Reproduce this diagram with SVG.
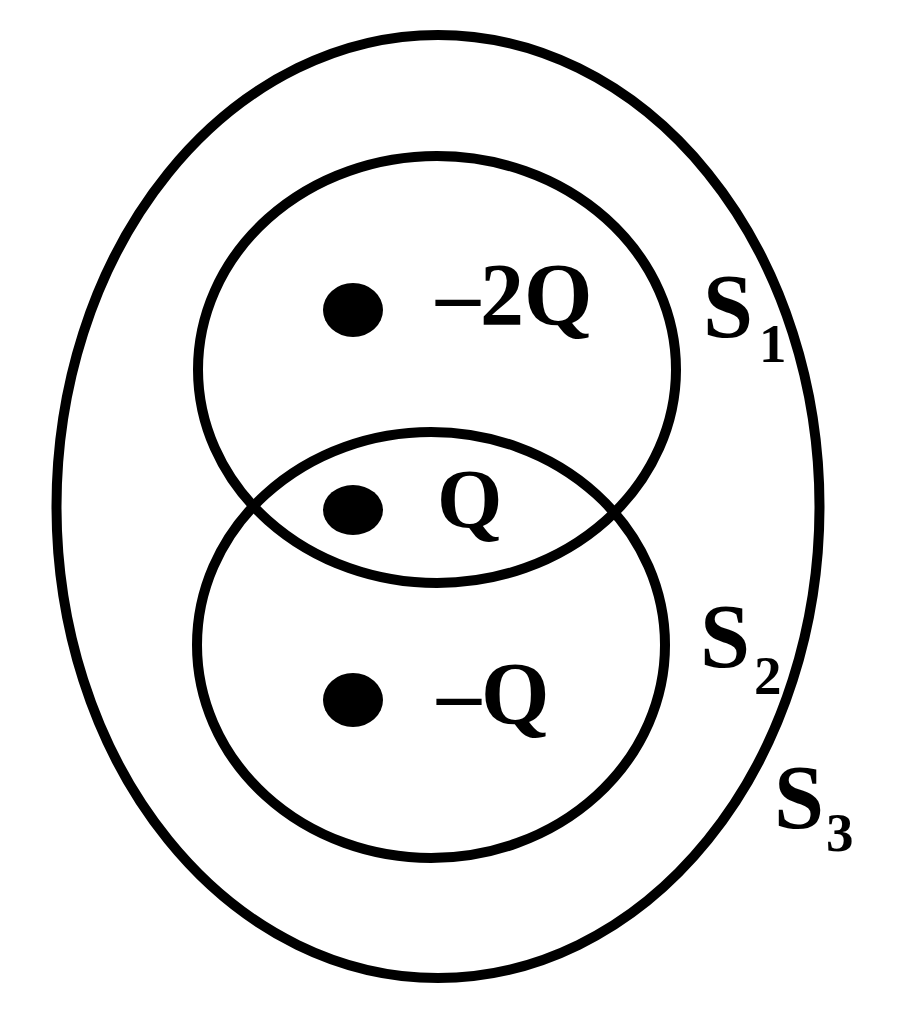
<svg xmlns="http://www.w3.org/2000/svg" width="900" height="1016" viewBox="0 0 900 1016">
<style>
.line{fill:none;stroke:#000;stroke-width:10}
.dot{fill:#000}
.lbl{font-family:"Liberation Serif","Times New Roman",serif;font-weight:bold;fill:#000}
.big{font-size:88px}
.s{font-size:90px}
.sub{font-size:55px}
</style>
<rect width="900" height="1016" fill="#fff"/>
<g id="S3">
<ellipse class="line" cx="438" cy="506.5" rx="381.5" ry="471.5"/>
<text class="lbl s" x="774" y="828">S</text><text class="lbl sub" x="826" y="851">3</text>
</g>
<g id="S1">
<ellipse class="line" cx="437" cy="369.5" rx="239" ry="213.5"/>
<text class="lbl s" x="703" y="337">S</text><text class="lbl sub" x="759" y="362">1</text>
</g>
<g id="S2">
<ellipse class="line" cx="431" cy="645" rx="234" ry="213"/>
<text class="lbl s" x="700" y="667">S</text><text class="lbl sub" x="754" y="694">2</text>
</g>
<g id="charge1">
<ellipse class="dot" cx="353" cy="310" rx="30" ry="27"/>
<text class="lbl big" x="436" y="324">–2Q</text>
</g>
<g id="charge2">
<ellipse class="dot" cx="353" cy="510" rx="30" ry="25"/>
<text class="lbl big" font-size="84" x="437" y="528" style="font-size:84px">Q</text>
</g>
<g id="charge3">
<ellipse class="dot" cx="353" cy="700" rx="30" ry="27"/>
<text class="lbl big" x="437" y="723">–Q</text>
</g>
<g id="connectors"></g>
</svg>
